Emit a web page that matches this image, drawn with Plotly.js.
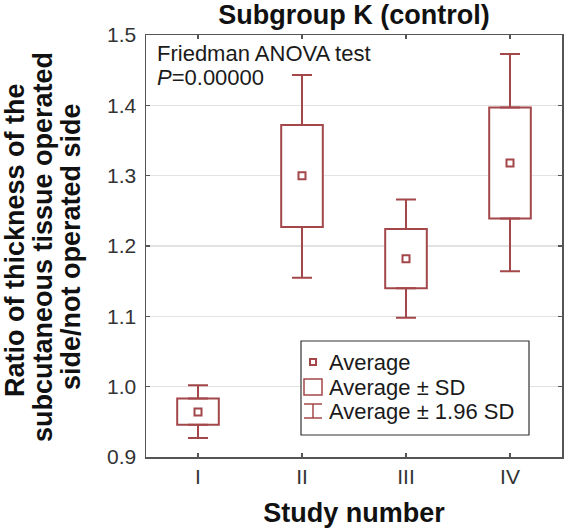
<!DOCTYPE html>
<html>
<head>
<meta charset="utf-8">
<script src="https://cdn.plot.ly/plotly-3.0.1.min.js"></script>
<style>html,body{margin:0;padding:0;background:#fff;}#chart{width:564px;height:528px;}</style>
</head>
<body>
<div id="chart"></div>
<script>
// ---- data ----
var studies = [1, 2, 3, 4];
var studyLabels = ['I', 'II', 'III', 'IV'];
var average = [0.964, 1.300, 1.182, 1.318];
var sdLow = [0.946, 1.227, 1.140, 1.239];
var sdHigh = [0.983, 1.372, 1.224, 1.397];
var ci196Low = [0.927, 1.155, 1.098, 1.164];
var ci196High = [1.002, 1.443, 1.266, 1.473];
var yTicks = [0.9, 1.0, 1.1, 1.2, 1.3, 1.4, 1.5];

// ---- styles ----
var RED = '#a3474a';
var FONT = 'Liberation Sans, Arial, sans-serif';
var W = 564, H = 528;
var L = 146, R = 562, T = 35, B = 457;
function px(x) { return (x - L) / (R - L); }
function py(y) { return (B - y) / (B - T); }

var boxHeights = sdHigh.map(function (v, i) { return v - sdLow[i]; });
var upArr = ci196High.map(function (v, i) { return v - sdHigh[i]; });
var downArr = sdLow.map(function (v, i) { return v - ci196Low[i]; });
var zeros = studies.map(function () { return 0; });

var traces = [
  {
    type: 'bar', x: studies, y: boxHeights, base: sdLow, width: 0.4,
    marker: { color: '#ffffff', line: { color: RED, width: 2 } },
    hoverinfo: 'skip', showlegend: false
  },
  {
    type: 'scatter', mode: 'markers', x: studies, y: sdHigh,
    marker: { size: 1, opacity: 0 },
    error_y: { type: 'data', symmetric: false, array: upArr, arrayminus: zeros, width: 10, thickness: 2, color: RED },
    hoverinfo: 'skip', showlegend: false
  },
  {
    type: 'scatter', mode: 'markers', x: studies, y: sdLow,
    marker: { size: 1, opacity: 0 },
    error_y: { type: 'data', symmetric: false, array: zeros, arrayminus: downArr, width: 10, thickness: 2, color: RED },
    hoverinfo: 'skip', showlegend: false
  },
  {
    type: 'scatter', mode: 'markers', x: studies, y: average,
    marker: { symbol: 'square-open', size: 7, color: RED, line: { width: 2, color: RED } },
    hoverinfo: 'skip', showlegend: false
  }
];

var annFont = { family: FONT, size: 22, color: '#1a1a1a' };
var yTitleLines = ['Ratio of thickness of the', 'subcutaneous tissue operated', 'side/not operated side'];
var yTitleX = [15, 43, 71];
var yTitleY = [240, 247, 247];

var annotations = [
  { xref: 'paper', yref: 'paper', x: px(155), y: py(53), xanchor: 'left', yanchor: 'middle', showarrow: false,
    text: 'Friedman ANOVA test', font: annFont },
  { xref: 'paper', yref: 'paper', x: px(155), y: py(77), xanchor: 'left', yanchor: 'middle', showarrow: false,
    text: '<i>P</i>=0.00000', font: annFont },
  { xref: 'paper', yref: 'paper', x: px(327), y: py(362), xanchor: 'left', yanchor: 'middle', showarrow: false,
    text: 'Average', font: annFont },
  { xref: 'paper', yref: 'paper', x: px(327), y: py(387), xanchor: 'left', yanchor: 'middle', showarrow: false,
    text: 'Average ± SD', font: annFont },
  { xref: 'paper', yref: 'paper', x: px(327), y: py(411), xanchor: 'left', yanchor: 'middle', showarrow: false,
    text: 'Average ± 1.96 SD', font: annFont }
];
yTitleLines.forEach(function (t, i) {
  annotations.push({
    xref: 'paper', yref: 'paper', x: px(yTitleX[i]), y: py(yTitleY[i]), xanchor: 'center', yanchor: 'middle',
    showarrow: false, textangle: -90, text: '<b>' + t + '</b>',
    font: { family: FONT, size: 27, color: '#111' }
  });
});

var shapes = [
  // legend frame
  { type: 'rect', xref: 'paper', yref: 'paper', x0: px(301), x1: px(529), y0: py(435), y1: py(341),
    line: { color: '#333', width: 1.2 }, fillcolor: '#ffffff', layer: 'above' },
  // legend: average marker
  { type: 'rect', xref: 'paper', yref: 'paper', x0: px(310), x1: px(316), y0: py(365), y1: py(359),
    line: { color: RED, width: 2 }, layer: 'above' },
  // legend: SD box
  { type: 'rect', xref: 'paper', yref: 'paper', x0: px(304), x1: px(322), y0: py(395), y1: py(379),
    line: { color: RED, width: 1.5 }, layer: 'above' },
  // legend: 1.96 SD whisker
  { type: 'line', xref: 'paper', yref: 'paper', x0: px(313), x1: px(313), y0: py(418), y1: py(404),
    line: { color: RED, width: 1.5 }, layer: 'above' },
  { type: 'line', xref: 'paper', yref: 'paper', x0: px(304), x1: px(322), y0: py(404), y1: py(404),
    line: { color: RED, width: 1.5 }, layer: 'above' },
  { type: 'line', xref: 'paper', yref: 'paper', x0: px(304), x1: px(322), y0: py(418), y1: py(418),
    line: { color: RED, width: 1.5 }, layer: 'above' }
];

var layout = {
  width: W, height: H,
  margin: { l: L, r: W - R, t: T, b: H - B },
  paper_bgcolor: '#ffffff', plot_bgcolor: '#ffffff',
  showlegend: false, hovermode: false,
  title: { text: '<b>Subgroup K (control)</b>', font: { family: FONT, size: 27, color: '#111' },
           xref: 'paper', x: 0.5, xanchor: 'center', y: 1 - 15 / H, yanchor: 'middle' },
  xaxis: {
    range: [0.5, 4.5], tickvals: studies, ticktext: studyLabels,
    ticks: 'inside', ticklen: 4, tickcolor: '#555', tickwidth: 1.5,
    showline: true, linecolor: '#555', linewidth: 1.5, mirror: 'ticks',
    showgrid: false, zeroline: false,
    tickfont: { family: FONT, size: 21, color: '#333' },
    title: { text: '<b>Study number</b>', font: { family: FONT, size: 27, color: '#111' }, standoff: 18 }
  },
  yaxis: {
    range: [0.9, 1.5], tickvals: yTicks, tickformat: '.1f',
    ticks: 'inside', ticklen: 4, tickcolor: '#555', tickwidth: 1.5,
    showline: true, linecolor: '#555', linewidth: 1.5, mirror: 'ticks',
    showgrid: true, gridcolor: '#e2e2e2', gridwidth: 1.5, zeroline: false,
    tickfont: { family: FONT, size: 21, color: '#333' },
    ticklabelstandoff: 4
  },
  annotations: annotations,
  shapes: shapes
};

Plotly.newPlot('chart', traces, layout, { displayModeBar: false, staticPlot: true });
</script>
</body>
</html>
